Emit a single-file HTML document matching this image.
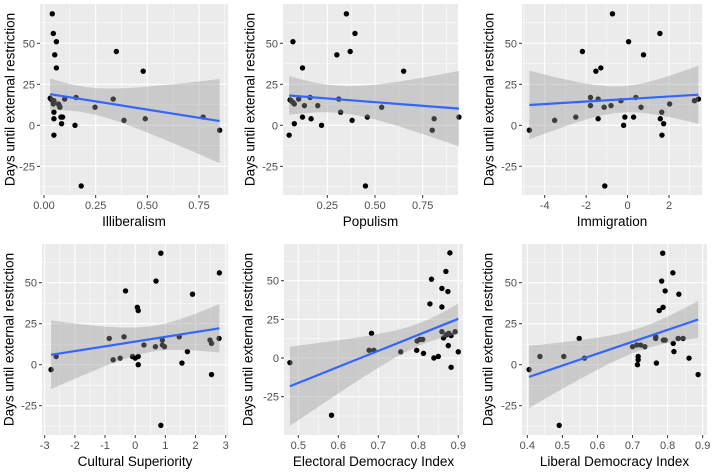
<!DOCTYPE html>
<html><head><meta charset="utf-8">
<style>
html,body{margin:0;padding:0;background:#fff;}
svg{display:block;font-family:"Liberation Sans",Arial,sans-serif;}
</style></head>
<body>
<svg id="chart" width="714" height="475" viewBox="0 0 714 475" xmlns="http://www.w3.org/2000/svg"></svg>
<script>
// ---- data ----
const illibX = [.04,.045,.06,.052,.06,.35,.48,.03,.037,.048,.045,.074,.077,.07,.10,.155,.335,.247,.048,.048,.082,.09,.085,.15,.387,.49,.77,.85,.048,.18];
const illibY = [68,56,51,43,35,45,33,16.5,15.5,15,13,12,11,13,16,17,16,11,8,4,5,5,1,0,3,4,5,-3,-6,-37];
const popX = [.35,.395,.07,.30,.37,.12,.65,.06,.07,.077,.10,.16,.13,.20,.31,.32,.535,.12,.165,.077,.22,.38,.46,.81,.80,.94,.05,.45,.055];
const popY = [68,56,51,43,45,35,33,15,14,13,16,17,12,12,16,8,11,5,4,1,0,3,5,4,-3,5,-6,-37,15.5];
const immX = [-.73,1.56,.05,-2.18,.77,-1.29,-1.53,-1.79,.4,-1.42,3.42,3.23,-.32,-1.79,-.8,-1.13,.65,2.03,1.65,-3.52,-2.5,-1.42,-.13,.29,-.19,1.58,1.74,1.66,-4.74,-1.1];
const immY = [68,56,51,45,43,35,33,17,17,16,16,15,15,12,12,11,11,13,8,3,5,4,5,5,0,4,1,-6,-3,-37];
const culX = [.85,2.79,.69,-.32,1.9,.07,.1,-.37,1.46,-.86,2.78,2.48,.9,2.53,.29,.67,.97,.9,1.73,-.73,-.5,-.09,.1,0,-2.62,-2.79,.1,1.55,2.53,.85];
const culY = [68,56,51,45,43,35,33,17,17,16,16,15,15,13,12,11,11,12,8,3,4,5,5,4,5,-3,0,1,-6,-37];
const eleX = [.879,.869,.833,.859,.874,.829,.859,.683,.859,.892,.876,.87,.882,.863,.797,.804,.811,.875,.677,.689,.796,.756,.813,.9,.839,.85,.882,.479,.583];
const eleY = [68,56,51,45,43,35,33,16,17,17,16,15,14.5,13,11,12,12,8,5,5,5,4,3,4,0,1,-6,-3,-37];
const libX = [.786,.815,.783,.793,.832,.787,.776,.766,.548,.766,.844,.83,.816,.788,.793,.7,.735,.723,.712,.818,.436,.504,.563,.716,.716,.714,.768,.861,.887,.405,.491];
const libY = [68,56,51,45,43,35,33,16,16,17,16,16,13,15,15,11,11,12,12,8,5,5,4,5,3,0,1,4,-6,-3,-37];
const yTicks = [-25,0,25,50];
const yMinor = [-37.5,-12.5,12.5,37.5,62.5];
const illibTicks = [0,0.25,0.5,0.75], illibLabels = ["0.00","0.25","0.50","0.75"];
const popTicks = [0.25,0.5,0.75], popLabels = ["0.25","0.50","0.75"];
const immTicks = [-4,-2,0,2], immLabels = ["-4","-2","0","2"];
const culTicks = [-3,-2,-1,0,1,2,3], culLabels = ["-3","-2","-1","0","1","2","3"];
const eleTicks = [0.5,0.6,0.7,0.8,0.9], eleLabels = ["0.5","0.6","0.7","0.8","0.9"];
const libTicks = [0.4,0.5,0.6,0.7,0.8,0.9], libLabels = ["0.4","0.5","0.6","0.7","0.8","0.9"];

// ---- layout ----
const panels = [
 {name:"illiberalism",title:"Illiberalism",xs:illibX,ys:illibY,ticks:illibTicks,labels:illibLabels,
  rect:[40,4,228,195],xcal:[0,44,0.75,199],ycal:[0,125.3,50,43.3],ytx:10},
 {name:"populism",title:"Populism",xs:popX,ys:popY,ticks:popTicks,labels:popLabels,
  rect:[283,4,458,195],xcal:[0.25,327.3,0.75,422.7],ycal:[0,125.3,50,43.3],ytx:250},
 {name:"immigration",title:"Immigration",xs:immX,ys:immY,ticks:immTicks,labels:immLabels,
  rect:[522,4,702,195],xcal:[-4,544.7,2,669],ycal:[0,125.3,50,43.3],ytx:489},
 {name:"cultural-superiority",title:"Cultural Superiority",xs:culX,ys:culY,ticks:culTicks,labels:culLabels,
  rect:[42,244,228,435],xcal:[-3,44.7,3,225.7],ycal:[0,364.7,50,282.7],ytx:9},
 {name:"electoral-democracy",title:"Electoral Democracy Index",xs:eleX,ys:eleY,ticks:eleTicks,labels:eleLabels,
  rect:[284,244,463,435],xcal:[0.5,298.3,0.9,458.3],ycal:[0,358,50,280.7],ytx:248},
 {name:"liberal-democracy",title:"Liberal Democracy Index",xs:libX,ys:libY,ticks:libTicks,labels:libLabels,
  rect:[522,244,707,435],xcal:[0.4,527.3,0.9,702.7],ycal:[0,364.7,50,282.7],ytx:488}
];

const NS="http://www.w3.org/2000/svg";
const svg=document.getElementById('chart');
function mk(tag,attrs,parent){const e=document.createElementNS(NS,tag);for(const k in attrs)e.setAttribute(k,attrs[k]);(parent||svg).appendChild(e);return e;}
function lin(c){return v=>c[1]+(v-c[0])*(c[3]-c[1])/(c[2]-c[0]);}

panels.forEach(p=>{
  const g=mk('g',{});
  
  
  const X=lin(p.xcal), Y=lin(p.ycal);
  const [x0,y0,x1,y1]=p.rect;
  const bg=mk('rect',{x:x0,y:y0,width:x1-x0,height:y1-y0,fill:'#ebebeb'},g);
  
  
  // minor grid
  yMinor.forEach(v=>{const yy=Y(v);if(yy>y0&&yy<y1)mk('line',{x1:x0,x2:x1,y1:yy,y2:yy,stroke:'#fff','stroke-width':0.5},g);});
  for(let i=0;i<p.ticks.length-1;i++){const xx=X((p.ticks[i]+p.ticks[i+1])/2);mk('line',{x1:xx,x2:xx,y1:y0,y2:y1,stroke:'#fff','stroke-width':0.5},g);}
  {const step=p.ticks[1]-p.ticks[0];
   [p.ticks[0]-step/2,p.ticks[p.ticks.length-1]+step/2].forEach(v=>{const xx=X(v);if(xx>x0&&xx<x1)mk('line',{x1:xx,x2:xx,y1:y0,y2:y1,stroke:'#fff','stroke-width':0.5},g);});}
  // major grid + ticks
  yTicks.forEach(v=>{const yy=Y(v);
    mk('line',{x1:x0,x2:x1,y1:yy,y2:yy,stroke:'#fff','stroke-width':1.1},g);
    mk('line',{x1:x0-3,x2:x0,y1:yy,y2:yy,stroke:'#333','stroke-width':1},g);
    const t=mk('text',{x:x0-5,y:yy+4,'text-anchor':'end','font-size':11,fill:'#4d4d4d'},g);t.textContent=String(v);
    
    
  });
  p.ticks.forEach((v,i)=>{const xx=X(v);
    mk('line',{x1:xx,x2:xx,y1:y0,y2:y1,stroke:'#fff','stroke-width':1.1},g);
    mk('line',{x1:xx,x2:xx,y1:y1,y2:y1+3,stroke:'#333','stroke-width':1},g);
    const t=mk('text',{x:xx,y:y1+14,'text-anchor':'middle','font-size':11,fill:'#4d4d4d'},g);t.textContent=p.labels[i];
    
    
  });
  // points
  p.xs.forEach((v,i)=>{
    const c=mk('circle',{cx:X(v),cy:Y(p.ys[i]),r:2.7,fill:'#000'},g);
    
    
  });
  // OLS fit + 95% CI
  const n=p.xs.length;let mx=0,my=0;for(let i=0;i<n;i++){mx+=p.xs[i];my+=p.ys[i];}mx/=n;my/=n;
  let sxx=0,sxy=0;for(let i=0;i<n;i++){sxx+=(p.xs[i]-mx)**2;sxy+=(p.xs[i]-mx)*(p.ys[i]-my);}
  const b=sxy/sxx,a=my-b*mx;let sse=0;for(let i=0;i<n;i++){sse+=(p.ys[i]-a-b*p.xs[i])**2;}
  const s=Math.sqrt(sse/(n-2)),t=2.045;
  const xmin=Math.min(...p.xs),xmax=Math.max(...p.xs);
  const up=[],lo=[];
  for(let k=0;k<=40;k++){const xv=xmin+(xmax-xmin)*k/40;const f=a+b*xv;const se=s*Math.sqrt(1/n+(xv-mx)**2/sxx);
    up.push(X(xv).toFixed(2)+','+Y(f+t*se).toFixed(2));lo.unshift(X(xv).toFixed(2)+','+Y(f-t*se).toFixed(2));}
  const band=mk('polygon',{points:up.concat(lo).join(' '),fill:'#999','fill-opacity':0.4},g);
  
  
  const ln=mk('line',{x1:X(xmin),y1:Y(a+b*xmin),x2:X(xmax),y2:Y(a+b*xmax),stroke:'#3366ff','stroke-width':2.2},g);
  
  
  // titles
  const xt=mk('text',{x:(x0+x1)/2,y:y1+31,'text-anchor':'middle','font-size':13.5,fill:'#000'},g);xt.textContent=p.title;
  
  
  const cy=(y0+y1)/2;
  const yt=mk('text',{x:p.ytx,y:cy,'text-anchor':'middle','font-size':13.5,fill:'#000',transform:'rotate(-90 '+p.ytx+' '+cy+')',dy:'0.35em'},g);yt.textContent='Days until external restriction';
  
  
});
</script>
</body></html>
